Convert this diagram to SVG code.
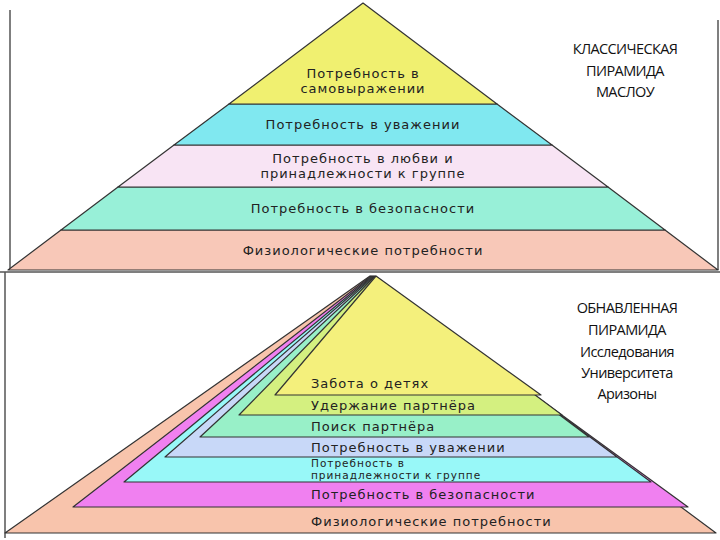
<svg xmlns="http://www.w3.org/2000/svg" width="720" height="540" viewBox="0 0 720 540">
<style>
.b{stroke:#333;stroke-width:1.2;stroke-linejoin:round}
.t{font-family:"DejaVu Sans",sans-serif;font-size:13px;fill:#222;letter-spacing:1px}
.s{font-size:10.5px}
.c{text-anchor:middle}
.r{font-family:"Open Sans","Liberation Sans",sans-serif;font-size:14.5px;fill:#111;text-anchor:middle;letter-spacing:-0.6px}
</style>
<rect width="720" height="540" fill="#fff"/>
<g id="frame" fill="none" stroke="#555" stroke-width="1.5">
<line x1="10" y1="10" x2="10" y2="270"/>
<line x1="0" y1="272" x2="720" y2="272"/>
<line x1="5" y1="272" x2="5" y2="538"/>
<line x1="718" y1="20" x2="718" y2="270"/>
</g>
<g id="classic">
<g id="c5"><polygon class="b" fill="#f8c8b8" points="61,230 665,230 718,270 8,270"/><text class="t c" x="363" y="255">Физиологические потребности</text></g>
<g id="c4"><polygon class="b" fill="#98f0d8" points="118,187 608,187 665,230 61,230"/><text class="t c" x="363" y="213">Потребность в безопасности</text></g>
<g id="c3"><polygon class="b" fill="#f8e4f4" points="174,145 552,145 608,187 118,187"/><text class="t c" x="363" y="163">Потребность в любви и</text><text class="t c" x="363" y="178">принадлежности к группе</text></g>
<g id="c2"><polygon class="b" fill="#80e8f0" points="229,104 497,104 552,145 174,145"/><text class="t c" x="363" y="129">Потребность в уважении</text></g>
<g id="c1"><polygon class="b" fill="#f0f070" points="363,3 497,104 229,104"/><text class="t c" x="363" y="78">Потребность в</text><text class="t c" x="363" y="93">самовыражении</text></g>
</g>
<g id="updated">
<g id="u7"><polygon class="b" fill="#f8c4ac" points="370,276 716,533 5,533"/><text class="t" x="311" y="526">Физиологические потребности</text></g>
<g id="u6"><polygon class="b" fill="#f080f0" points="371,276 688,507 73,507"/><text class="t" x="311" y="499">Потребность в безопасности</text></g>
<g id="u5"><polygon class="b" fill="#98f8f8" points="372,276 651,482 124,482"/><text class="t s" x="311" y="467">Потребность в</text><text class="t s" x="311" y="479">принадлежности к группе</text></g>
<g id="u4"><polygon class="b" fill="#c8d8f8" points="373,276 617,457 165,457"/><text class="t" x="311" y="452">Потребность в уважении</text></g>
<g id="u3"><polygon class="b" fill="#98f0c8" points="374,276 589,437 200,437"/><text class="t" x="311" y="431">Поиск партнёра</text></g>
<g id="u2"><polygon class="b" fill="#d4f080" points="375,276 562,415 239,415"/><text class="t" x="311" y="410">Удержание партнёра</text></g>
<g id="u1"><polygon class="b" fill="#f4f07c" points="376,276 541,395 275,395"/><text class="t" x="311" y="388">Забота о детях</text></g>
</g>
<g id="labels">
<text class="r" x="625" y="54">КЛАССИЧЕСКАЯ</text>
<text class="r" x="625" y="76">ПИРАМИДА</text>
<text class="r" x="625" y="97">МАСЛОУ</text>
<text class="r" x="627" y="313">ОБНАВЛЕННАЯ</text>
<text class="r" x="627" y="335">ПИРАМИДА</text>
<text class="r" x="627" y="357">Исследования</text>
<text class="r" x="627" y="378">Университета</text>
<text class="r" x="627" y="399">Аризоны</text>
</g>
<g id="connectors"/>
</svg>
